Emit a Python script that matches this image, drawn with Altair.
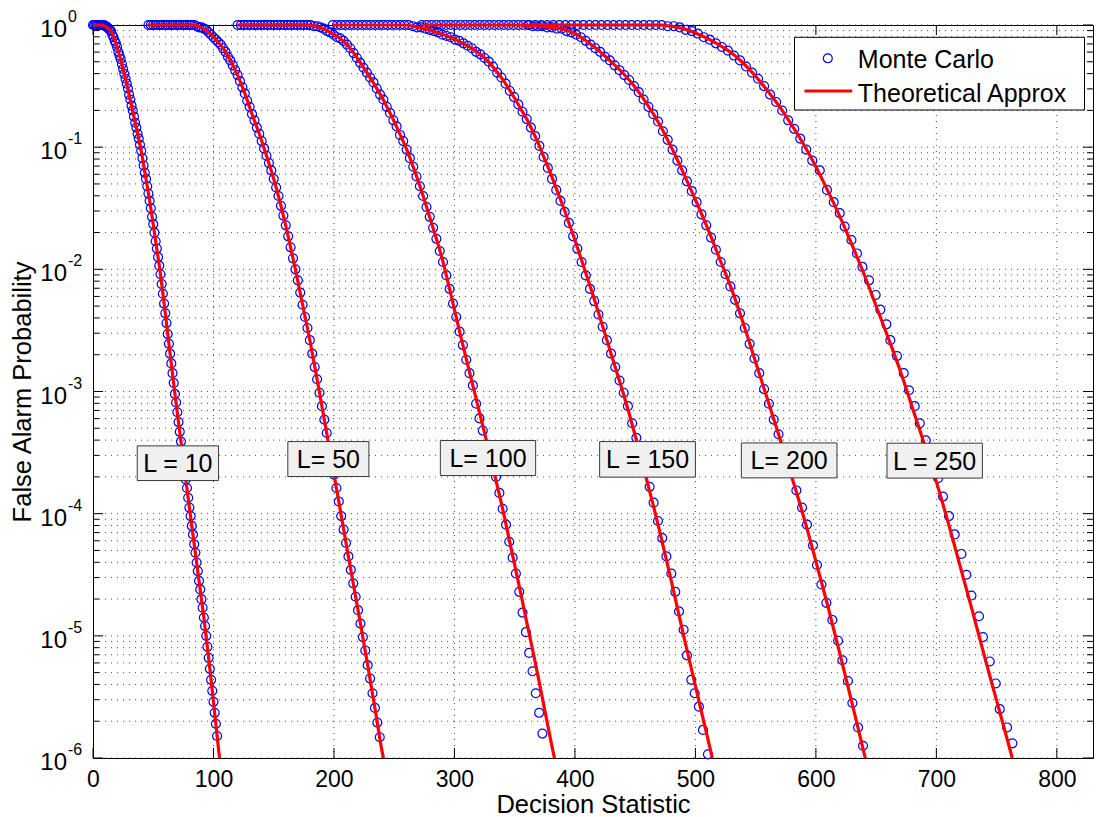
import altair as alt
import pandas as pd

FONT = "Liberation Sans"
W, H = 1000, 733

# ---------------- data ----------------
L_values = [10, 50, 100, 150, 200, 250]

# Theoretical approximation: x and log10(P_FA)
th10_x = [0, 6, 10, 13, 15, 17, 19, 22, 25, 28, 32, 36, 40, 44, 48, 52, 56, 60, 64, 68, 72, 76, 80, 84, 88, 92, 96, 100, 104, 105]
th10_e = [0, 0, -0.01, -0.03, -0.05, -0.10, -0.15, -0.25, -0.36, -0.48, -0.66, -0.84, -1.03, -1.26, -1.50, -1.77, -2.04, -2.36, -2.69, -3.02, -3.33, -3.64, -3.95, -4.25, -4.55, -4.85, -5.18, -5.54, -5.91, -6.0]

th50_x = [46, 84, 90, 96, 102, 108, 114, 120, 126, 132, 138, 144, 150, 156, 162, 168, 174, 180, 186, 192, 198, 204, 210, 216, 222, 228, 234, 240, 241]
th50_e = [0, 0, -0.02, -0.06, -0.12, -0.19, -0.29, -0.41, -0.56, -0.73, -0.89, -1.07, -1.26, -1.48, -1.73, -2.0, -2.29, -2.58, -2.90, -3.23, -3.57, -3.90, -4.24, -4.57, -4.90, -5.24, -5.59, -5.95, -6.0]

th100_x = [120, 180, 185, 190, 195, 200, 205, 210, 215, 220, 225, 230, 235, 240, 245, 250, 255, 260, 265, 270, 275, 280, 285, 290, 295, 300, 305, 310, 315, 320, 325, 330, 335, 340, 345, 350, 355, 360, 365, 370, 375, 380, 383]
th100_e = [0, 0, -0.01, -0.025, -0.05, -0.08, -0.11, -0.15, -0.21, -0.28, -0.355, -0.43, -0.51, -0.595, -0.69, -0.79, -0.90, -1.01, -1.14, -1.28, -1.43, -1.59, -1.75, -1.92, -2.12, -2.33, -2.54, -2.74, -2.94, -3.14, -3.34, -3.54, -3.75, -3.96, -4.19, -4.42, -4.65, -4.89, -5.12, -5.36, -5.61, -5.86, -6.0]

th150_x = [199, 260, 265, 270, 275, 280, 285, 290, 295, 300, 305, 310, 315, 320, 325, 330, 335, 340, 345, 350, 355, 360, 365, 370, 375, 380, 385, 390, 395, 400, 405, 410, 415, 420, 425, 430, 435, 440, 445, 450, 455, 460, 465, 470, 475, 480, 485, 490, 495, 500, 505, 510, 514]
th150_e = [0, 0, -0.01, -0.02, -0.03, -0.045, -0.06, -0.075, -0.095, -0.115, -0.14, -0.165, -0.195, -0.23, -0.27, -0.32, -0.38, -0.445, -0.52, -0.60, -0.685, -0.77, -0.87, -0.98, -1.1, -1.22, -1.35, -1.48, -1.62, -1.76, -1.91, -2.06, -2.21, -2.37, -2.53, -2.69, -2.85, -3.01, -3.18, -3.36, -3.55, -3.74, -3.93, -4.13, -4.34, -4.55, -4.77, -4.99, -5.2, -5.41, -5.62, -5.83, -6.0]

th200_x = [273, 355, 360, 370, 380, 390, 400, 410, 420, 430, 440, 450, 460, 470, 480, 490, 500, 510, 520, 530, 540, 550, 560, 570, 580, 590, 600, 610, 620, 630, 640, 641]
th200_e = [0, 0, -0.005, -0.01, -0.02, -0.035, -0.07, -0.135, -0.21, -0.30, -0.395, -0.51, -0.65, -0.81, -1.0, -1.21, -1.43, -1.66, -1.91, -2.16, -2.45, -2.76, -3.07, -3.38, -3.70, -4.03, -4.39, -4.76, -5.15, -5.55, -5.96, -6.0]

th250_x = [362, 470, 480, 490, 500, 510, 520, 530, 540, 550, 560, 570, 580, 590, 600, 610, 620, 630, 640, 650, 660, 670, 680, 690, 700, 710, 720, 730, 740, 750, 760, 763]
th250_e = [0, 0, -0.01, -0.03, -0.065, -0.11, -0.165, -0.23, -0.315, -0.42, -0.54, -0.67, -0.82, -0.98, -1.16, -1.36, -1.57, -1.80, -2.04, -2.30, -2.56, -2.83, -3.13, -3.43, -3.74, -4.08, -4.44, -4.80, -5.17, -5.53, -5.89, -6.0]

# Monte Carlo estimates: x and log10(P_FA)
mc10_x = [0, 1, 2, 3, 4, 5, 6, 7, 8, 9, 10, 11, 12, 13, 14, 15, 16, 17, 18, 19,
          20, 21, 22, 23, 24, 25, 26, 27, 28, 29, 30, 31, 32, 33, 34, 35, 36, 37, 38, 39,
          40, 41, 42, 43, 44, 45, 46, 47, 48, 49, 50, 51, 52, 53, 54, 55, 56, 57, 58, 59,
          60, 61, 62, 63, 64, 65, 66, 67, 68, 69, 70, 71, 72, 73, 74, 75, 76, 77, 78, 79,
          80, 81, 82, 83, 84, 85, 86, 87, 88, 89, 90, 91, 92, 93, 94, 95, 96, 97, 98, 99,
          100, 101, 102, 103]
mc10_e = [0, 0, 0, 0, 0, 0, 0, 0, 0, 0,
          -0.01, -0.01, -0.02, -0.03, -0.04, -0.05, -0.08, -0.10, -0.13, -0.15,
          -0.18, -0.22, -0.25, -0.28, -0.32, -0.36, -0.40, -0.44, -0.48, -0.52,
          -0.57, -0.61, -0.66, -0.70, -0.75, -0.80, -0.84, -0.89, -0.93, -0.98,
          -1.03, -1.09, -1.15, -1.21, -1.26, -1.32, -1.38, -1.44, -1.50, -1.57,
          -1.63, -1.70, -1.77, -1.83, -1.90, -1.97, -2.04, -2.12, -2.20, -2.28,
          -2.36, -2.44, -2.53, -2.61, -2.69, -2.77, -2.85, -2.93, -3.02, -3.09,
          -3.17, -3.25, -3.33, -3.41, -3.48, -3.56, -3.64, -3.72, -3.79, -3.87,
          -3.95, -4.02, -4.10, -4.17, -4.25, -4.32, -4.40, -4.47, -4.55, -4.62,
          -4.70, -4.77, -4.85, -4.92, -5.00, -5.09, -5.18, -5.27, -5.36, -5.45,
          -5.54, -5.63, -5.72, -5.82]

mc50_x = [46, 48, 50, 52, 54, 56, 58, 60, 62, 64, 66, 68, 70, 72, 74, 76, 78, 80, 82, 84,
          86, 88, 90, 92, 94, 96, 98, 100, 102, 104, 106, 108, 110, 112, 114, 116, 118, 120,
          122, 124, 126, 128, 130, 132, 134, 136, 138, 140, 142, 144, 146, 148, 150, 152, 154,
          156, 158, 160, 162, 164, 166, 168, 170, 172, 174, 176, 178, 180, 182, 184, 186, 188,
          190, 192, 194, 196, 198, 200, 202, 204, 206, 208, 210, 212, 214, 216, 218, 220, 222,
          224, 226, 228, 230, 232, 234, 236, 238]
mc50_e = [0, 0, 0, 0, 0, 0, 0, 0, 0, 0, 0, 0, 0, 0, 0, 0, 0, 0, 0, 0,
          -0.01, -0.02, -0.02, -0.03, -0.04, -0.06, -0.08, -0.10, -0.12, -0.14, -0.16, -0.19,
          -0.22, -0.26, -0.29, -0.33, -0.37, -0.41, -0.46, -0.51, -0.56, -0.62, -0.67, -0.73,
          -0.78, -0.84, -0.89, -0.95, -1.01, -1.07, -1.13, -1.19, -1.26, -1.33, -1.40, -1.48,
          -1.56, -1.64, -1.73, -1.82, -1.91, -2.00, -2.09, -2.19, -2.29, -2.39, -2.48, -2.58,
          -2.69, -2.80, -2.90, -3.01, -3.12, -3.23, -3.34, -3.46, -3.57, -3.68, -3.79, -3.90,
          -4.02, -4.13, -4.24, -4.35, -4.46, -4.57, -4.68, -4.79, -4.90, -5.01, -5.12, -5.24,
          -5.35, -5.47, -5.59, -5.71, -5.83]

mc100_x = [120, 122.8, 125.5, 128.3, 131, 133.8, 136.5, 139.3, 142, 144.8, 147.5, 150.3, 153,
           155.8, 158.5, 161.3, 164, 166.8, 169.5, 172.3, 175, 177.8, 180.5, 183.3, 186, 188.8,
           191.5, 194.3, 197, 199.8, 202.5, 205.3, 208, 210.8, 213.5, 216.3, 219, 221.8, 224.5,
           227.3, 230, 232.8, 235.5, 238.3, 241, 243.8, 246.5, 249.3, 252, 254.8, 257.5, 260.3,
           263, 265.8, 268.5, 271.3, 274, 276.8, 279.5, 282.3, 285, 287.8, 290.5, 293.3, 296,
           298.8, 301.5, 304.3, 307, 309.8, 312.5, 315.3, 318, 320.8, 323.5, 326.3, 329, 331.8,
           334.5, 337.3, 340, 342.8, 345.5, 348.3, 351, 353.8, 356.5, 359.3, 362, 364.8, 367.5,
           370.3, 373]
mc100_e = [0, 0, 0, 0, 0, 0, 0, 0, 0, 0, 0, 0, 0, 0, 0, 0, 0, 0, 0, 0, 0, 0, 0,
           -0.01, -0.01, -0.02, -0.03, -0.05, -0.06, -0.08, -0.10, -0.11, -0.13, -0.16, -0.19,
           -0.23, -0.27, -0.31, -0.35, -0.39, -0.43, -0.47, -0.52, -0.57, -0.61, -0.67, -0.72,
           -0.78, -0.83, -0.90, -0.95, -1.02, -1.09, -1.16, -1.24, -1.32, -1.40, -1.49, -1.57,
           -1.66, -1.75, -1.85, -1.94, -2.05, -2.16, -2.28, -2.39, -2.51, -2.62, -2.74, -2.85,
           -2.95, -3.10, -3.22, -3.32, -3.45, -3.55, -3.63,
           -3.70, -3.83, -3.96, -4.09, -4.23, -4.36, -4.49, -4.64, -4.81, -4.97, -5.14, -5.29,
           -5.47, -5.63, -5.80]

mc150_x = [199, 202.5, 206, 209.5, 213, 216.5, 220, 223.5, 227, 230.5, 234, 237.5, 241, 244.5,
           248, 251.5, 255, 258.5, 262, 265.5, 269, 272.5, 276, 279.5, 283, 286.5, 290, 293.5,
           297, 300.5, 304, 307.5, 311, 314.5, 318, 321.5, 325, 328.5, 332, 335.5, 339, 342.5,
           346, 349.5, 353, 356.5, 360, 363.5, 367, 370.5, 374, 377.5, 381, 384.5, 388, 391.5,
           395, 398.5, 402, 405.5, 409, 412.5, 416, 419.5, 423, 426.5, 430, 433.5, 437,
           440.5, 444, 447.5, 451, 454.5, 458,
           462.0, 465.3, 468.9, 472.5, 475.9, 480.0, 483.3, 486.4, 490.2, 493.0, 496.6, 499.4,
           502.9, 506.3, 510.4]
mc150_e = [0, 0, 0, 0, 0, 0, 0, 0, 0, 0, 0, 0, 0, 0, 0, 0, 0, 0, 0,
           -0.01, -0.02, -0.02, -0.03, -0.04, -0.05, -0.06, -0.08, -0.09, -0.10, -0.12, -0.13,
           -0.15, -0.17, -0.19, -0.22, -0.24, -0.27, -0.30, -0.34, -0.39, -0.43, -0.48, -0.54,
           -0.59, -0.65, -0.71, -0.77, -0.84, -0.91, -0.99, -1.08, -1.17, -1.26, -1.35, -1.44,
           -1.53, -1.62, -1.73, -1.83, -1.94, -2.05, -2.16, -2.26, -2.37, -2.47, -2.58, -2.69,
           -2.80, -2.91,
           -3.01, -3.12, -3.26, -3.38, -3.52, -3.65,
           -3.78, -3.91, -4.06, -4.20, -4.35, -4.49, -4.64, -4.80, -4.95, -5.16, -5.36, -5.47,
           -5.58, -5.77, -5.97]

mc200_x = [273, 277, 281, 285, 289, 293, 297, 301, 305, 309, 313, 317, 321, 325, 329, 333, 337,
           341, 345, 349, 353, 357, 361, 365, 369, 373, 377, 381, 385, 389, 393, 397, 401, 405,
           409, 413, 417, 421, 425, 429, 433, 437, 441, 445, 449, 453, 457, 461, 465, 469, 473,
           477, 481, 485, 489, 493, 497, 501, 505, 509, 513, 517, 521, 525, 529, 533, 537, 541,
           545, 549, 553, 557, 561, 565, 569, 573, 577,
           583.8, 588.5, 592.6, 597.6, 600.9, 604.6, 608.7, 613.7, 618.4, 622.0, 626.6, 630.3,
           635.0, 639.1]
mc200_e = [0, 0, 0, 0, 0, 0, 0, 0, 0, 0, 0, 0, 0, 0, 0, 0, 0, 0, 0, 0, 0, 0, 0,
           -0.01, -0.01, -0.01, -0.02, -0.02, -0.03, -0.03, -0.05, -0.06, -0.08, -0.10, -0.13,
           -0.16, -0.19, -0.22, -0.26, -0.29, -0.33, -0.37, -0.41, -0.45, -0.50, -0.55, -0.61,
           -0.67, -0.73, -0.79, -0.87, -0.94, -1.02, -1.11, -1.19, -1.28, -1.36, -1.45, -1.55,
           -1.64, -1.74, -1.84, -1.94, -2.04, -2.14, -2.25, -2.36, -2.48, -2.61, -2.73, -2.85,
           -2.98, -3.10, -3.23, -3.35, -3.48, -3.60,
           -3.81, -3.95, -4.09, -4.26, -4.42, -4.58, -4.73, -4.87, -5.04, -5.20, -5.37, -5.55,
           -5.75, -5.90]

mc250_x = [362, 367, 372, 377, 382, 387, 392, 397, 402, 407, 412, 417, 422, 427, 432, 437, 442,
           447, 452, 457, 462, 467, 472, 477, 482, 487, 492, 497, 502, 507, 512, 517, 522, 527,
           532, 537, 542, 547, 552, 557, 562, 567, 572, 577, 582, 587, 592, 597,
           603.2, 609.2, 614.8, 619.8, 623.9, 629.5, 634.1, 638.6, 644.1, 649.6, 653.5, 658.5,
           661.8, 667.3, 672.9, 677.3, 682.0, 686.2, 691.2, 696.0, 701.4, 705.5, 710.5, 715.2,
           720.8, 724.9, 729.1, 735.4, 738.7, 744.3, 749.3, 752.6, 758.7, 763.1]
mc250_e = [0, 0, 0, 0, 0, 0, 0, 0, 0, 0, 0, 0, 0, 0, 0, 0, 0, 0, 0, 0, 0, 0, 0,
           -0.01, -0.01, -0.02, -0.04, -0.05, -0.07, -0.10, -0.12, -0.15, -0.18, -0.21, -0.25,
           -0.29, -0.34, -0.39, -0.44, -0.50, -0.57, -0.63, -0.70, -0.78, -0.85, -0.93, -1.02,
           -1.11,
           -1.19, -1.35, -1.45, -1.54, -1.65, -1.76, -1.87, -1.98, -2.09, -2.21, -2.33, -2.45,
           -2.58, -2.71, -2.85, -2.99, -3.12, -3.26, -3.40, -3.55, -3.71, -3.86, -4.02, -4.17,
           -4.33, -4.50, -4.67, -4.84, -5.01, -5.21, -5.39, -5.60, -5.75, -5.88]

# curve labels: text, box x-extent and box log10(P) extent
lab_text = ["L = 10", "L= 50", "L= 100", "L = 150", "L= 200", "L = 250"]
lab_x0 = [36.7, 161.7, 288.3, 420.5, 538.1, 659.0]
lab_x1 = [104.2, 229.0, 367.4, 500.0, 617.5, 738.2]
lab_top = [-3.445, -3.410, -3.401, -3.410, -3.421, -3.423]
lab_bot = [-3.729, -3.696, -3.688, -3.701, -3.707, -3.709]

legend_labels = ["Monte Carlo", "Theoretical Approx"]

x_tick_vals = [0, 100, 200, 300, 400, 500, 600, 700, 800]
y_dec_exp = [0, -1, -2, -3, -4, -5, -6]

# ---------------- tables ----------------
th_x = [th10_x, th50_x, th100_x, th150_x, th200_x, th250_x]
th_e = [th10_e, th50_e, th100_e, th150_e, th200_e, th250_e]
mc_x = [mc10_x, mc50_x, mc100_x, mc150_x, mc200_x, mc250_x]
mc_e = [mc10_e, mc50_e, mc100_e, mc150_e, mc200_e, mc250_e]

th_rows, mc_rows = [], []
for L, xs_, es_ in zip(L_values, th_x, th_e):
    for x, e in zip(xs_, es_):
        th_rows.append({"L": L, "x": x, "p": 10.0 ** e})
for L, xs_, es_ in zip(L_values, mc_x, mc_e):
    for x, e in zip(xs_, es_):
        mc_rows.append({"L": L, "x": x, "p": 10.0 ** e})
th_df = pd.DataFrame(th_rows)
mc_df = pd.DataFrame(mc_rows)

lab_df = pd.DataFrame({
    "text": lab_text, "x": lab_x0, "x1": lab_x1,
    "p": [10.0 ** v for v in lab_top], "pb": [10.0 ** v for v in lab_bot],
    "xc": [(a + b) / 2 for a, b in zip(lab_x0, lab_x1)],
    "pc": [10.0 ** ((a + b) / 2) for a, b in zip(lab_top, lab_bot)],
})

y_major = [10.0 ** k for k in y_dec_exp]
y_minor = [m * 10.0 ** k for k in range(-6, 0) for m in range(2, 10)]
ymaj_df = pd.DataFrame({"p": y_major, "base": ["10"] * len(y_major),
                        "exp": [str(k) for k in y_dec_exp]})
ymin_df = pd.DataFrame({"p": y_minor})
ygrid_df = pd.DataFrame({"p": y_major + y_minor})
xt_df = pd.DataFrame({"x": x_tick_vals})
xgrid_df = pd.DataFrame({"x": x_tick_vals[1:]})
one_df = pd.DataFrame({"k": [0]})
leg_df = pd.DataFrame({"label": legend_labels})

xs = alt.Scale(domain=[0, 830], nice=False, zero=False)
ys = alt.Scale(type="log", domain=[1e-6, 1], nice=False)

X_AXIS = alt.Axis(values=x_tick_vals, format="d", labelFontSize=23, labelPadding=10,
                  labelFlush=False, labelOverlap=False, ticks=False, domain=False,
                  grid=False, labels=True, title="Decision Statistic",
                  titleFontSize=25.5, titlePadding=1)
Y_AXIS = alt.Axis(title="False Alarm Probability", labels=False, ticks=False,
                  domain=False, grid=False, titleFontSize=25.5, titlePadding=58)

GRID = dict(color="#3a3a3a", strokeWidth=1, strokeDash=[1, 5], opacity=0.9)

grid_y = alt.Chart(ygrid_df).mark_rule(**GRID).encode(
    y=alt.Y("p:Q", scale=ys, axis=Y_AXIS, title="False Alarm Probability"),
    x=alt.value(0), x2=alt.value(W))

grid_x = alt.Chart(xgrid_df).mark_rule(**GRID).encode(
    x=alt.X("x:Q", scale=xs, axis=X_AXIS, title="Decision Statistic"),
    y=alt.value(0), y2=alt.value(H))

TICK = dict(color="black", strokeWidth=1)
tx_b = alt.Chart(xt_df).mark_rule(**TICK).encode(
    x=alt.X("x:Q", scale=xs), y=alt.value(H), y2=alt.value(H - 10))
tx_t = alt.Chart(xt_df).mark_rule(**TICK).encode(
    x=alt.X("x:Q", scale=xs), y=alt.value(0), y2=alt.value(10))
ty_l = alt.Chart(ymaj_df).mark_rule(**TICK).encode(
    y=alt.Y("p:Q", scale=ys), x=alt.value(0), x2=alt.value(10))
ty_r = alt.Chart(ymaj_df).mark_rule(**TICK).encode(
    y=alt.Y("p:Q", scale=ys), x=alt.value(W), x2=alt.value(W - 10))
tym_l = alt.Chart(ymin_df).mark_rule(**TICK).encode(
    y=alt.Y("p:Q", scale=ys), x=alt.value(0), x2=alt.value(6))
tym_r = alt.Chart(ymin_df).mark_rule(**TICK).encode(
    y=alt.Y("p:Q", scale=ys), x=alt.value(W), x2=alt.value(W - 6))

ylab_base = alt.Chart(ymaj_df).mark_text(
    align="right", baseline="middle", fontSize=24, font=FONT, dy=5, color="black").encode(
    y=alt.Y("p:Q", scale=ys), x=alt.value(-26), text="base:N")
ylab_exp = alt.Chart(ymaj_df).mark_text(
    align="left", baseline="middle", fontSize=16, font=FONT, dy=-8, color="black").encode(
    y=alt.Y("p:Q", scale=ys), x=alt.value(-25), text="exp:N")

mc = alt.Chart(mc_df).mark_point(
    shape="circle", filled=False, color="#0000ff", size=80, strokeWidth=1.2,
    opacity=1, clip=False).encode(
    x=alt.X("x:Q", scale=xs), y=alt.Y("p:Q", scale=ys))

th = alt.Chart(th_df).mark_line(
    color="#ff0000", strokeWidth=3.2, interpolate="monotone", clip=False).encode(
    x=alt.X("x:Q", scale=xs), y=alt.Y("p:Q", scale=ys), detail="L:N")

lab_box = alt.Chart(lab_df).mark_rect(fill="#f0f0f0", stroke="#3a3a3a", strokeWidth=1).encode(
    x=alt.X("x:Q", scale=xs), x2="x1:Q",
    y=alt.Y("p:Q", scale=ys), y2="pb:Q")
lab_txt = alt.Chart(lab_df).mark_text(
    fontSize=25, font=FONT, baseline="middle", align="center", color="black", dy=1).encode(
    x=alt.X("xc:Q", scale=xs), y=alt.Y("pc:Q", scale=ys), text="text:N")

# legend (drawn in pixel space of the plot area)
leg_box = alt.Chart(one_df).mark_rect(fill="white", stroke="black", strokeWidth=1).encode(
    x=alt.value(701.5), x2=alt.value(991.5), y=alt.value(12.3), y2=alt.value(85))
leg_pt = alt.Chart(one_df).mark_point(
    shape="circle", filled=False, color="#0000ff", size=80, strokeWidth=1.2, opacity=1).encode(
    x=alt.value(734.8), y=alt.value(33.3))
leg_ln = alt.Chart(one_df).mark_rule(color="#ff0000", strokeWidth=3.2).encode(
    x=alt.value(711.5), x2=alt.value(759.2), y=alt.value(66))
leg_t1 = alt.Chart(leg_df).transform_filter(alt.datum.label == legend_labels[0]).mark_text(
    align="left", baseline="alphabetic", fontSize=25, font=FONT, color="black").encode(
    x=alt.value(764.8), y=alt.value(43.3), text="label:N")
leg_t2 = alt.Chart(leg_df).transform_filter(alt.datum.label == legend_labels[1]).mark_text(
    align="left", baseline="alphabetic", fontSize=25, font=FONT, color="black").encode(
    x=alt.value(764.8), y=alt.value(76.7), text="label:N")

chart = alt.layer(
    grid_x, grid_y, tym_l, tym_r, ty_l, ty_r, tx_b, tx_t,
    mc, th, lab_box, lab_txt,
    leg_box, leg_pt, leg_ln, leg_t1, leg_t2,
    ylab_base, ylab_exp,
).properties(
    width=W, height=H,
    padding={"left": 93, "top": 25, "right": 3, "bottom": 59},
    autosize=alt.AutoSizeParams(type="none"),
).configure(
    background="white",
).configure_view(
    stroke="black", strokeWidth=1,
).configure_axis(
    labelFont=FONT, titleFont=FONT, labelColor="black", titleColor="black",
    titleFontWeight="normal", grid=False, ticks=False, domain=False,
).configure_axisY(
    labels=False,
)

chart.save("out.html", embed_options={"renderer": "svg", "actions": False})
